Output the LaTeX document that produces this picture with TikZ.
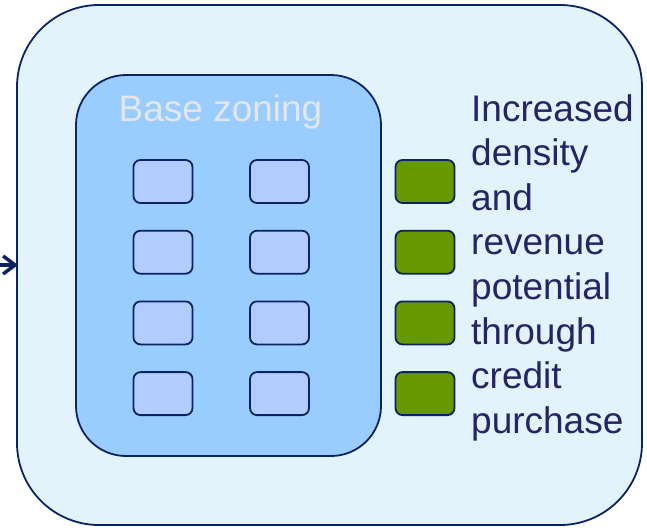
\documentclass[tikz,border=0pt]{standalone}
\usepackage{fontspec}
\setmainfont{Liberation Sans}
\usetikzlibrary{arrows.meta}

\definecolor{navy}{RGB}{11,36,97}
\definecolor{textnavy}{RGB}{38,36,100}
\definecolor{paleblue}{RGB}{227,243,251}
\definecolor{zoneblue}{RGB}{153,204,255}
\definecolor{lotblue}{RGB}{179,204,255}
\definecolor{creditgreen}{RGB}{102,153,0}
\definecolor{titlegray}{RGB}{228,230,232}

\tikzset{
  zone/.style={draw=navy, line width=1.8pt, rectangle, inner sep=0pt},
  lot/.style={draw=navy, line width=1.8pt, rounded corners=7pt,
    minimum width=59pt, minimum height=43pt, inner sep=0pt},
  bigtext/.style={font=\fontsize{37}{44.6}\selectfont}
}

\begin{document}
\begin{tikzpicture}[x=1pt, y=-1pt]
        \useasboundingbox (0,0) rectangle (647,527);

        % outer area and the base zoning block
        \node[zone, fill=paleblue, rounded corners=82pt,
          minimum width=625pt, minimum height=520pt] (plan) at (329.5,265) {};
        \node[zone, fill=zoneblue, rounded corners=50pt,
          minimum width=305pt, minimum height=381pt] (base) at (228.5,265.5) {};
        \node[bigtext, text=titlegray, anchor=base] (basetitle) at (220.5,121) {Base zoning};

        % lots under base zoning, plus credit lots
        \foreach \r in {1,...,4} {
          \node[lot, fill=lotblue] (lotA\r) at (163, {181.5+70.7*(\r-1)}) {};
          \node[lot, fill=lotblue] (lotB\r) at (279.5, {181.5+70.7*(\r-1)}) {};
          \node[lot, fill=creditgreen] (credit\r) at (425, {181.5+70.7*(\r-1)}) {};
        }

        \node[bigtext, text=textnavy, anchor=north west, align=left, inner sep=0pt] (gain) at (471,94)
          {Increased\\density\\and\\revenue\\potential\\through\\credit\\purchase};

        % incoming arrow, only its head shows at the edge
        \coordinate (in) at (-10,265);
        \draw[navy, line width=3.5pt] (in) -- ([xshift=-3pt]plan.west);
        \draw[navy, line width=3.5pt, line join=miter]
          ([shift={(-13,-9)}]plan.west) -- ([xshift=-1pt]plan.west) -- ([shift={(-13,9)}]plan.west);
      \end{tikzpicture}
\end{document}
